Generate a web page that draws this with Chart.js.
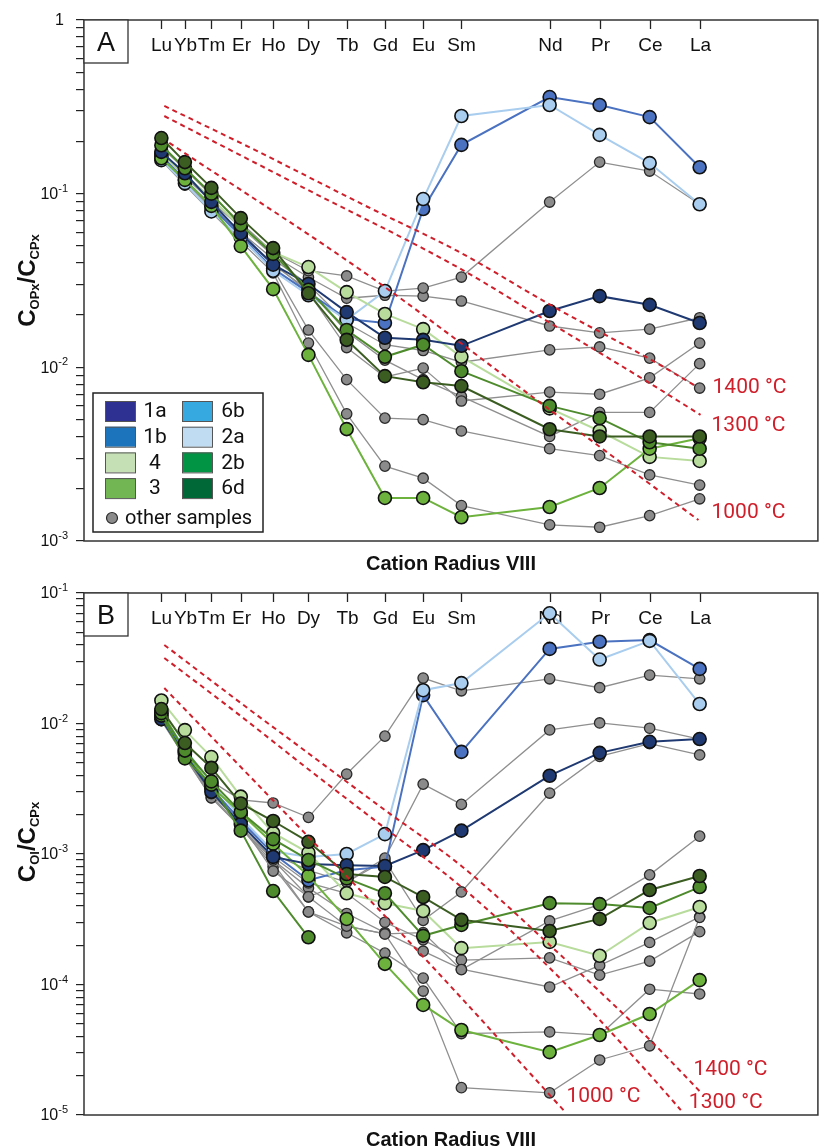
<!DOCTYPE html>
<html>
<head>
<meta charset="utf-8">
<script src="https://cdn.jsdelivr.net/npm/chart.js@4.4.0/dist/chart.umd.min.js"></script>
<style>
  body { margin: 0; background: #fff; }
  .panel { position: absolute; left: 0; width: 826px; }
</style>
</head>
<body>
<div class="panel" style="top:0;height:575px"><canvas id="chartA"></canvas></div>
<div class="panel" style="top:575px;height:573px"><canvas id="chartB"></canvas></div>
<script>
// REE order and 8-fold cation radius (Å)
const elements = ['Lu', 'Yb', 'Tm', 'Er', 'Ho', 'Dy', 'Tb', 'Gd', 'Eu', 'Sm', 'Nd', 'Pr', 'Ce', 'La'];
const radius = [0.977, 0.985, 0.994, 1.004, 1.015, 1.027, 1.040, 1.053, 1.066, 1.079, 1.109, 1.126, 1.143, 1.160];

// Panel A: C(OPx)/C(CPx)
const opx_1a = [0.174, 0.131, 0.0897, 0.0591, 0.039, 0.0302, 0.0208, 0.0148, 0.0144, 0.0133, 0.0211, 0.0257, 0.0229, 0.018];
const opx_1b = [0.165, 0.12, 0.085, 0.057, 0.037, 0.027, 0.019, 0.018, 0.0816, 0.191, 0.36, 0.324, 0.276, 0.142];
const opx_2a = [0.156, 0.115, 0.079, 0.056, 0.036, 0.026, 0.0188, 0.0275, 0.0931, 0.28, 0.324, 0.218, 0.15, 0.0869];
const opx_4 = [0.17, 0.128, 0.094, 0.064, 0.046, 0.0378, 0.0271, 0.0203, 0.0166, 0.0115, 0.0058, 0.0043, 0.00305, 0.00289];
const opx_3 = [0.16, 0.12, 0.085, 0.0499, 0.0282, 0.0118, 0.00441, 0.00177, 0.00177, 0.00137, 0.00157, 0.00202, 0.0034, 0.0039];
const opx_2b = [0.19, 0.14, 0.1, 0.066, 0.045, 0.028, 0.0164, 0.0115, 0.0135, 0.0095, 0.006, 0.0051, 0.0037, 0.0034];
const opx_6d = [0.209, 0.152, 0.108, 0.0723, 0.0486, 0.0267, 0.0144, 0.0089, 0.0082, 0.0078, 0.0044, 0.004, 0.004, 0.004];
const opx_other = [
  [0.185, 0.138, 0.098, 0.068, 0.046, 0.036, 0.0336, 0.0275, 0.0286, 0.0331, 0.0895, 0.152, 0.135, 0.087],
  [0.17, 0.125, 0.09, 0.064, 0.044, 0.033, 0.025, 0.026, 0.0257, 0.0241, 0.0173, 0.0158, 0.0166, 0.0193],
  [0.165, 0.12, 0.086, 0.06, 0.042, 0.03, 0.018, 0.0135, 0.0125, 0.0107, 0.0126, 0.0131, 0.0113, 0.0076],
  [0.16, 0.117, 0.083, 0.057, 0.04, 0.027, 0.013, 0.0088, 0.0099, 0.0064, 0.0072, 0.007, 0.0087, 0.0138],
  [0.158, 0.115, 0.08, 0.055, 0.037, 0.0164, 0.0085, 0.0051, 0.005, 0.0043, 0.0034, 0.0031, 0.0024, 0.0021],
  [0.155, 0.112, 0.078, 0.053, 0.035, 0.0138, 0.0054, 0.0027, 0.0023, 0.0016, 0.00124, 0.0012, 0.0014, 0.00175],
  [0.16, 0.118, 0.084, 0.058, 0.039, 0.028, 0.016, 0.011, 0.0085, 0.0068, 0.004, 0.0055, 0.0055, 0.0105]
];
const opx_isoLabels = ['1400 °C', '1300 °C', '1000 °C'];
const opx_isoR = [
  [0.978, 1.0101, 1.0472, 1.0776, 1.1104, 1.1441, 1.1586],
  [0.978, 1.0236, 1.0776, 1.1104, 1.1441, 1.1603],
  [0.9797, 1.0482, 1.1046, 1.1596]
];
const opx_isoV = [
  [0.32, 0.174, 0.0838, 0.0468, 0.0223, 0.0109, 0.00781],
  [0.28, 0.112, 0.0378, 0.0175, 0.0079, 0.00532],
  [0.196, 0.0331, 0.00648, 0.00132]
];

// Panel B: C(Ol)/C(CPx)
const ol_1a = [0.0108, 0.0058, 0.003, 0.0017, 0.00095, 0.00084, 0.00082, 0.00081, 0.00107, 0.00151, 0.00398, 0.00596, 0.00724, 0.0076];
const ol_1b = [0.0112, 0.006, 0.0032, 0.0018, 0.00101, 0.00063, 0.00075, 0.0008, 0.0165, 0.00606, 0.0373, 0.0423, 0.0436, 0.0262];
const ol_2a = [0.012, 0.0064, 0.0035, 0.0019, 0.00105, 0.00095, 0.001, 0.00142, 0.018, 0.0204, 0.0699, 0.0309, 0.043, 0.0141];
const ol_4 = [0.015, 0.0089, 0.00553, 0.00275, 0.00145, 0.00102, 0.0005, 0.00042, 0.000366, 0.00019, 0.000212, 0.000166, 0.000296, 0.000393];
const ol_3 = [0.0125, 0.0061, 0.00327, 0.00206, 0.0012, 0.00068, 0.000318, 0.000144, 0.0000697, 0.0000448, 0.0000303, 0.000041, 0.0000594, 0.000108];
const ol_2b = [0.012, 0.0062, 0.0036, 0.0021, 0.0013, 0.0009, 0.00065, 0.0005, 0.000236, 0.000286, 0.00042, 0.000413, 0.000386, 0.000558];
const ol_2bShort = [0.0115, 0.0054, 0.0034, 0.00151, 0.00052, 0.00023, null, null, null, null, null, null, null, null];
const ol_6d = [0.0129, 0.00708, 0.00457, 0.00244, 0.00179, 0.00124, 0.000703, 0.000667, 0.000468, 0.000313, 0.000257, 0.000318, 0.00053, 0.000678];
const ol_other = [
  [0.0115, 0.0062, 0.0036, 0.0026, 0.00246, 0.00191, 0.0041, 0.008, 0.0223, 0.0178, 0.022, 0.0188, 0.0235, 0.022],
  [0.011, 0.0058, 0.0029, 0.0017, 0.00074, 0.00047, 0.00061, 0.00093, 0.00343, 0.0024, 0.00893, 0.0101, 0.0092, 0.0076],
  [0.0112, 0.006, 0.0031, 0.0018, 0.001, 0.00075, 0.00061, 0.00089, 0.00031, 0.000512, 0.00293, 0.0056, 0.007, 0.00574],
  [0.0105, 0.0055, 0.0027, 0.0016, 0.0009, 0.00047, 0.00028, 0.000244, 0.00025, 0.00013, 0.000307, 0.00041, 0.000692, 0.00137],
  [0.0108, 0.0057, 0.0028, 0.0016, 0.00085, 0.00036, 0.000249, 0.000174, 0.000112, 0.0000421, 0.0000433, 0.000041, 0.000092, 0.0000846],
  [0.0106, 0.0056, 0.00269, 0.0016, 0.0008, 0.00036, 0.00028, 0.000244, 0.0000891, 0.0000162, 0.0000148, 0.0000264, 0.0000339, 0.000327],
  [0.011, 0.0059, 0.003, 0.0017, 0.00095, 0.0006, 0.0005, 0.0003, 0.00022, 0.000154, 0.00016, 0.000118, 0.000151, 0.000254],
  [0.0107, 0.0057, 0.0029, 0.0017, 0.0009, 0.00055, 0.00035, 0.00025, 0.00018, 0.000131, 0.0000957, 0.00014, 0.00021, 0.00033]
];
const ol_isoLabels = ['1400 °C', '1300 °C', '1000 °C'];
const ol_isoR = [
  [0.978, 1.004, 1.0273, 1.053, 1.079, 1.109, 1.1431, 1.1603],
  [0.978, 1.004, 1.0273, 1.053, 1.079, 1.109, 1.1431, 1.1536],
  [0.978, 1.004, 1.0273, 1.053, 1.079, 1.1137]
];
const ol_isoV = [
  [0.04, 0.01436, 0.00584, 0.00217, 0.000809, 0.000201, 0.0000376, 0.000015],
  [0.0318, 0.0114, 0.0044, 0.00158, 0.000559, 0.000134, 0.0000203, 0.0000109],
  [0.0187, 0.00464, 0.00133, 0.000335, 0.0000788, 0.0000109]
];

// marker colours in the plot and swatch colours in the legend
const seriesColor = { '1a': '#1f3a72', '1b': '#4a72c0', '2a': '#a9cdee', '4': '#b8dc9c', '3': '#6cb23c', '2b': '#4e8b2d', '6d': '#3b5d22' };
const legendKeys = ['1a', '1b', '4', '3', '6b', '2a', '2b', '6d'];
const legendColor = ['#2e3192', '#1c75bc', '#c5e0b4', '#72b654', '#36a9e1', '#bfdcf2', '#009444', '#006837'];

const ARIAL = '"Liberation Sans", Arial, sans-serif';
const ISO_RED = '#cf1f2b';

function sampleSet(vals, color) {
  return {
    data: radius.map((r, i) => ({ x: r, y: vals[i] })),
    borderColor: color, borderWidth: 2,
    pointRadius: 6.5, pointBackgroundColor: color,
    pointBorderColor: '#111', pointBorderWidth: 1.6,
    spanGaps: false, order: 2
  };
}

function otherSet(vals) {
  return {
    data: radius.map((r, i) => ({ x: r, y: vals[i] })),
    borderColor: '#8f8f8f', borderWidth: 1.3,
    pointRadius: 5.2, pointBackgroundColor: '#8b8b8b',
    pointBorderColor: '#2b2b2b', pointBorderWidth: 1.3,
    order: 3
  };
}

function isoSet(rs, vs) {
  return {
    data: rs.map((r, j) => ({ x: r, y: vs[j] })),
    borderColor: ISO_RED, borderWidth: 2, borderDash: [5, 4],
    pointRadius: 0, cubicInterpolationMode: 'monotone', order: 0
  };
}

// everything drawn around the data: top REE axis, frame, labels, legend
const decor = {
  id: 'decor',
  beforeDatasetsDraw(chart, args, o) {
    const { ctx, chartArea: a, scales: { x } } = chart;
    ctx.save();
    ctx.strokeStyle = '#222';
    ctx.lineWidth = 1.3;
    ctx.fillStyle = '#111';
    ctx.font = '19px ' + ARIAL;
    ctx.textAlign = 'center';
    ctx.textBaseline = 'alphabetic';
    elements.forEach((el, i) => {
      const px = Math.round(x.getPixelForValue(radius[i])) + 0.5;
      ctx.beginPath();
      ctx.moveTo(px, a.top);
      ctx.lineTo(px, a.top + 9);
      ctx.stroke();
      ctx.fillText(el, px, a.top + 31);
    });
    ctx.restore();
  },
  afterDatasetsDraw(chart, args, o) {
    const { ctx, chartArea: a, scales: { x, y } } = chart;
    ctx.save();

    // isotherm labels next to the end of each dashed curve
    ctx.fillStyle = ISO_RED;
    ctx.font = '21px Roboto, sans-serif';
    ctx.textAlign = 'left';
    ctx.textBaseline = 'middle';
    o.isoLabels.forEach((t, k) => {
      const n = o.isoR[k].length - 1;
      const px = x.getPixelForValue(o.isoR[k][n]) + o.isoOffset[k][0];
      const py = y.getPixelForValue(o.isoV[k][n]) + o.isoOffset[k][1];
      ctx.fillText(t, px, py);
    });

    // frame
    ctx.strokeStyle = '#333';
    ctx.lineWidth = 1.5;
    ctx.strokeRect(a.left, a.top, a.right - a.left, a.bottom - a.top);

    // panel letter
    ctx.fillStyle = '#fff';
    ctx.fillRect(a.left, a.top, 44, 43);
    ctx.lineWidth = 1.3;
    ctx.strokeRect(a.left, a.top, 44, 43);
    ctx.fillStyle = '#111';
    ctx.font = '27px ' + ARIAL;
    ctx.textAlign = 'center';
    ctx.textBaseline = 'alphabetic';
    ctx.fillText(o.letter, a.left + 22, a.top + 31);

    if (o.legend) drawLegend(ctx);
    ctx.restore();
  },
  afterDraw(chart, args, o) {
    const { ctx, chartArea: a, scales: { y } } = chart;
    ctx.save();
    ctx.fillStyle = '#111';

    // decade labels on the log axis
    const lo = Math.ceil(Math.log10(y.min) - 1e-9), hi = Math.floor(Math.log10(y.max) + 1e-9);
    for (let e = lo; e <= hi; e++) {
      const py = y.getPixelForValue(Math.pow(10, e));
      const right = a.left - 16;
      ctx.textBaseline = 'middle';
      if (e === 0) {
        ctx.font = '16px ' + ARIAL;
        ctx.textAlign = 'right';
        ctx.fillText('1', right - 4, py + 1);
        continue;
      }
      const sup = String(e);
      ctx.font = '11px ' + ARIAL;
      const ws = ctx.measureText(sup).width;
      ctx.textAlign = 'left';
      ctx.fillText(sup, right - ws, py - 5);
      ctx.font = '16px ' + ARIAL;
      ctx.textAlign = 'right';
      ctx.fillText('10', right - ws, py + 1);
    }

    // x title
    ctx.font = 'bold 20px ' + ARIAL;
    ctx.textAlign = 'center';
    ctx.textBaseline = 'alphabetic';
    ctx.fillText('Cation Radius VIII', (a.left + a.right) / 2, o.xTitleY);

    // y title with subscripts, rotated
    ctx.translate(26, (a.top + a.bottom) / 2 + o.yTitleShift);
    ctx.rotate(-Math.PI / 2);
    const parts = [
      ['C', 'bold 24px ' + ARIAL, 0], [o.sub1, 'bold 13px ' + ARIAL, 4],
      ['/C', 'bold 24px ' + ARIAL, 0], ['CPx', 'bold 13px ' + ARIAL, 4]
    ];
    let total = 0;
    parts.forEach(p => { ctx.font = p[1]; total += ctx.measureText(p[0]).width; });
    let cx = -total / 2;
    ctx.textAlign = 'left';
    parts.forEach(p => {
      ctx.font = p[1];
      ctx.fillText(p[0], cx, 8.5 + p[2]);
      cx += ctx.measureText(p[0]).width;
    });
    ctx.restore();
  }
};

function drawLegend(ctx) {
  ctx.save();
  ctx.fillStyle = '#fff';
  ctx.fillRect(93, 393, 170, 139);
  ctx.strokeStyle = '#222';
  ctx.lineWidth = 1.5;
  ctx.strokeRect(93, 393, 170, 139);
  ctx.font = '21px Roboto, sans-serif';
  ctx.textAlign = 'center';
  ctx.textBaseline = 'middle';
  legendKeys.forEach((k, i) => {
    const col = Math.floor(i / 4), row = i % 4;
    const sx = col ? 182 : 105, sy = 401 + row * 25.7;
    ctx.fillStyle = legendColor[i];
    ctx.fillRect(sx, sy, 30, 20);
    ctx.strokeStyle = '#555';
    ctx.lineWidth = 1;
    ctx.strokeRect(sx + 0.5, sy + 0.5, 30, 20);
    ctx.fillStyle = '#111';
    ctx.fillText(k, col ? 233 : 155, sy + 11);
  });
  ctx.beginPath();
  ctx.arc(112, 518, 5.5, 0, Math.PI * 2);
  ctx.fillStyle = '#8b8b8b';
  ctx.fill();
  ctx.strokeStyle = '#2b2b2b';
  ctx.lineWidth = 1.2;
  ctx.stroke();
  ctx.fillStyle = '#111';
  ctx.font = '20px Roboto, sans-serif';
  ctx.textAlign = 'left';
  ctx.fillText('other samples', 125, 519);
  ctx.restore();
}

function makeChart(id, cfg) {
  const datasets = [
    ...cfg.named.map(([key, vals]) => sampleSet(vals, seriesColor[key])),
    ...cfg.others.map(otherSet),
    ...cfg.isoR.map((rs, k) => isoSet(rs, cfg.isoV[k]))
  ];
  return new Chart(document.getElementById(id), {
    type: 'line',
    data: { datasets },
    plugins: [decor],
    options: {
      responsive: true,
      maintainAspectRatio: false,
      animation: false,
      devicePixelRatio: 1,
      layout: { padding: { top: cfg.padTop, right: 3, left: 0, bottom: 0 } },
      plugins: {
        legend: { display: false },
        tooltip: { enabled: false },
        decor: {
          letter: cfg.letter, sub1: cfg.sub1, legend: cfg.legend,
          isoLabels: cfg.isoLabels, isoR: cfg.isoR, isoV: cfg.isoV, isoOffset: cfg.isoOffset,
          xTitleY: cfg.xTitleY, yTitleShift: cfg.yTitleShift
        }
      },
      scales: {
        x: {
          type: 'linear', min: 0.9507, max: 1.2002,
          ticks: { display: false }, grid: { display: false }, border: { display: false },
          afterFit(s) { s.height = cfg.bottomSpace; }
        },
        y: {
          type: 'logarithmic', min: cfg.yMin, max: cfg.yMax,
          ticks: { display: false },
          grid: { drawOnChartArea: false, drawTicks: true, tickLength: 8, color: '#222', lineWidth: 1.2 },
          border: { display: false },
          afterBuildTicks(s) {
            const t = [];
            for (let e = Math.round(Math.log10(cfg.yMin)); e < Math.round(Math.log10(cfg.yMax)); e++) {
              for (let m = 1; m < 10; m++) t.push({ value: m * Math.pow(10, e) });
            }
            t.push({ value: cfg.yMax });
            s.ticks = t;
          },
          afterFit(s) { s.width = 84; }
        }
      }
    }
  });
}

makeChart('chartA', {
  letter: 'A', sub1: 'OPx', legend: true,
  yMin: 1e-3, yMax: 1, padTop: 20, bottomSpace: 34, xTitleY: 570, yTitleShift: 0,
  named: [['6d', opx_6d], ['2b', opx_2b], ['1a', opx_1a], ['3', opx_3], ['4', opx_4], ['2a', opx_2a], ['1b', opx_1b]],
  others: opx_other,
  isoLabels: opx_isoLabels, isoR: opx_isoR, isoV: opx_isoV,
  isoOffset: [[17, 2], [11, 11], [13, -7]]
});

makeChart('chartB', {
  letter: 'B', sub1: 'Ol', legend: false,
  yMin: 1e-5, yMax: 1e-1, padTop: 18, bottomSpace: 33, xTitleY: 571, yTitleShift: -12,
  named: [['6d', ol_6d], ['2b', ol_2b], ['2b', ol_2bShort], ['1a', ol_1a], ['3', ol_3], ['4', ol_4], ['2a', ol_2a], ['1b', ol_1b]],
  others: ol_other,
  isoLabels: ol_isoLabels, isoR: ol_isoR, isoV: ol_isoV,
  isoOffset: [[-7, -22], [8, -7], [3, -13]]
});
</script>
</body>
</html>
